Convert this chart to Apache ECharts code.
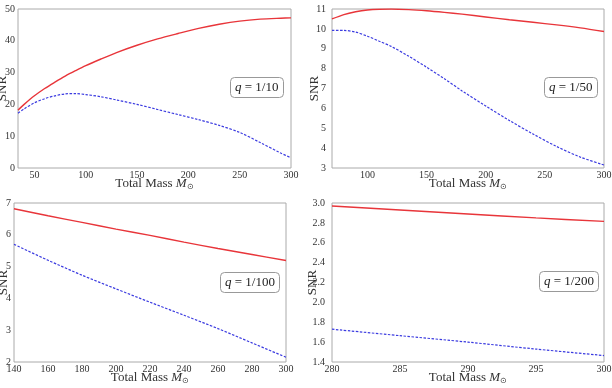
<!DOCTYPE html>
<html>
<head>
<meta charset="utf-8">
<script src="https://cdn.jsdelivr.net/npm/echarts@6/dist/echarts.min.js"></script>
<style>
html, body { margin: 0; padding: 0; background: #fff; }
#main { width: 612px; height: 388px; }
</style>
</head>
<body>
<div id="main"></div>
<script>
// q = 1/10
var mass10 = [34, 40, 50, 60, 70, 80, 90, 100, 115, 130, 150, 170, 190, 210, 230, 250, 270, 290, 300];
var red10 = [18.2, 20.0, 22.7, 25.0, 27.0, 28.9, 30.6, 32.2, 34.3, 36.3, 38.6, 40.6, 42.3, 43.9, 45.2, 46.2, 46.8, 47.1, 47.2];
var blue10 = [17.2, 18.6, 20.5, 21.8, 22.7, 23.3, 23.4, 23.1, 22.4, 21.4, 20.0, 18.4, 16.8, 15.2, 13.4, 11.2, 8.0, 4.7, 3.2];
// q = 1/50
var mass50 = [70, 80, 90, 100, 110, 120, 135, 150, 165, 180, 200, 220, 240, 260, 280, 300];
var red50 = [10.5, 10.72, 10.86, 10.95, 10.99, 11.0, 10.97, 10.91, 10.83, 10.74, 10.6, 10.46, 10.33, 10.2, 10.05, 9.87];
var blue50 = [9.92, 9.92, 9.84, 9.63, 9.38, 9.12, 8.62, 8.07, 7.49, 6.88, 6.12, 5.39, 4.71, 4.08, 3.55, 3.15];
// q = 1/100
var mass100 = [140, 160, 180, 200, 220, 240, 260, 280, 300];
var red100 = [6.82, 6.6, 6.39, 6.18, 5.98, 5.77, 5.57, 5.38, 5.19];
var blue100 = [5.7, 5.2, 4.73, 4.3, 3.88, 3.47, 3.05, 2.6, 2.15];
// q = 1/200
var mass200 = [280, 285, 290, 295, 300];
var red200 = [2.97, 2.93, 2.89, 2.85, 2.815];
var blue200 = [1.73, 1.665, 1.6, 1.53, 1.465];

var xTicks = [
	[50, 100, 150, 200, 250, 300],
	[100, 150, 200, 250, 300],
	[140, 160, 180, 200, 220, 240, 260, 280, 300],
	[280, 285, 290, 295, 300]
];
var qLabels = ['1/10', '1/50', '1/100', '1/200'];

var serif = 'Liberation Serif';
var myChart = echarts.init(document.getElementById('main'));

var grids = [
	{ left: 18, top: 9, width: 273, height: 159 },
	{ left: 332, top: 9, width: 272, height: 159 },
	{ left: 14, top: 203, width: 272, height: 159 },
	{ left: 332, top: 203, width: 272, height: 159 }
];
var xRange = [[34, 300], [70, 300], [140, 300], [280, 300]];
var yRange = [[0, 50, 10], [3, 11, 1], [2, 7, 1], [1.4, 3.0, 0.2]];
var yLabelMargin = [3, 6, 3, 7];
var yNameGap = [9, 11, 4, 13];
var boxes = [[230, 77], [544, 77], [220, 272], [539, 271]];

function pairs(xs, ys) {
	return xs.map(function (x, i) { return [x, ys[i]]; });
}
var data = [
	[mass10, red10, blue10],
	[mass50, red50, blue50],
	[mass100, red100, blue100],
	[mass200, red200, blue200]
];

var option = {
	backgroundColor: '#fff',
	animation: false,
	title: [],
	grid: [],
	xAxis: [],
	yAxis: [],
	series: []
};

for (var k = 0; k < 4; k++) {
	option.grid.push(Object.assign({
		show: true, borderColor: '#aaa', borderWidth: 1,
		containLabel: false, outerBoundsMode: 'none'
	}, grids[k]));
	option.xAxis.push({
		type: 'value',
		gridIndex: k,
		min: xRange[k][0],
		max: xRange[k][1],
		name: '{n|Total Mass }{i|M}{s|⊙}',
		nameLocation: 'middle',
		nameGap: 8,
		nameMoveOverlap: false,
		nameTextStyle: {
			fontFamily: serif, fontSize: 13, color: '#333',
			rich: {
				n: { fontFamily: serif, fontSize: 13, color: '#333' },
				i: { fontFamily: serif, fontSize: 13, fontStyle: 'italic', color: '#333' },
				s: { fontFamily: serif, fontSize: 8, color: '#333', padding: [7, 0, 0, 0] }
			}
		},
		axisLine: { show: false },
		axisTick: { show: false },
		splitLine: { show: false },
		axisLabel: {
			customValues: xTicks[k],
			margin: 2,
			fontFamily: serif, fontSize: 10, color: '#333'
		}
	});
	option.yAxis.push({
		type: 'value',
		gridIndex: k,
		min: yRange[k][0],
		max: yRange[k][1],
		interval: yRange[k][2],
		name: 'SNR',
		nameLocation: 'middle',
		nameGap: yNameGap[k],
		nameMoveOverlap: false,
		nameTextStyle: { fontFamily: serif, fontSize: 13, color: '#333' },
		axisLine: { show: false },
		axisTick: { show: false },
		splitLine: { show: false },
		axisLabel: {
			margin: yLabelMargin[k],
			fontFamily: serif, fontSize: 10, color: '#333',
			formatter: k === 3 ? function (v) { return v.toFixed(1); } : null
		}
	});
	option.series.push({
		type: 'line',
		xAxisIndex: k, yAxisIndex: k,
		data: pairs(data[k][0], data[k][1]),
		showSymbol: false,
		smooth: 0.3,
		lineStyle: { color: '#e8353a', width: 1.4 }
	});
	option.series.push({
		type: 'line',
		xAxisIndex: k, yAxisIndex: k,
		data: pairs(data[k][0], data[k][2]),
		showSymbol: false,
		smooth: 0.3,
		lineStyle: { color: '#3b3be0', width: 1.2, type: [2.5, 1.5] }
	});
	option.title.push({
		text: '{i|q} = ' + qLabels[k],
		left: boxes[k][0],
		top: boxes[k][1],
		padding: [4, 5, 4, 5],
		borderColor: '#999',
		borderWidth: 1,
		borderRadius: 4,
		textStyle: {
			fontFamily: serif, fontSize: 13, fontWeight: 'normal', color: '#222',
			rich: {
				i: { fontFamily: serif, fontSize: 13, fontStyle: 'italic', color: '#222' }
			}
		}
	});
}

myChart.setOption(option);
</script>
</body>
</html>
